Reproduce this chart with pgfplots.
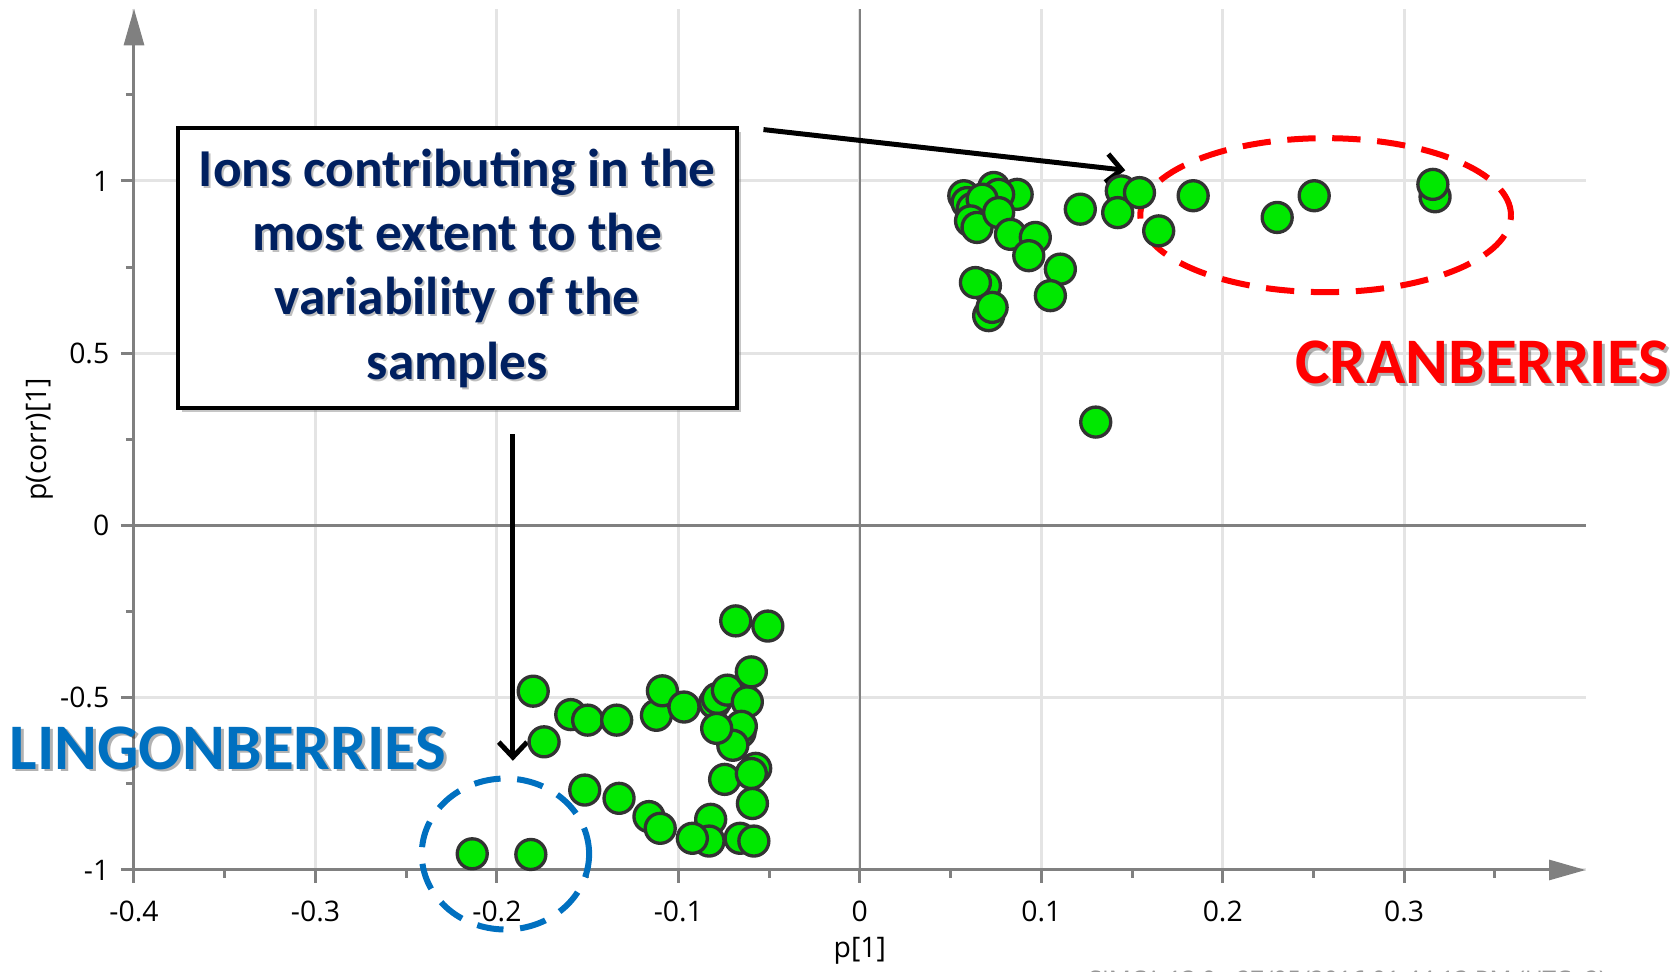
\documentclass[border=0pt]{standalone}
\usepackage{fontspec}
\setmainfont{Open Sans}
\newfontfamily\calibri{Carlito}
\usepackage{pgfplots}
\usepackage{pgfplotstable}
\pgfplotsset{compat=1.18}
\usetikzlibrary{arrows.meta,shadows}

\definecolor{axisgray}{RGB}{128,128,128}
\definecolor{gridgray}{RGB}{228,228,228}
\definecolor{ptgreen}{RGB}{0,232,0}
\definecolor{ptedge}{RGB}{51,51,51}
\definecolor{navy}{RGB}{0,32,96}
\definecolor{lingblue}{RGB}{0,112,192}
\definecolor{cranred}{RGB}{255,0,0}
\definecolor{footgray}{RGB}{150,150,150}

% loadings p[1] and p(corr)[1], positive side (cranberry markers)
\pgfplotstableread{
x y
0.0573 0.957
0.0591 0.937
0.0700 0.950
0.0620 0.920
0.0738 0.981
0.0867 0.961
0.0765 0.961
0.0674 0.947
0.0610 0.884
0.0646 0.865
0.0765 0.908
0.0830 0.845
0.0967 0.836
0.0931 0.783
0.1105 0.744
0.1050 0.667
0.0692 0.696
0.0637 0.705
0.0710 0.609
0.0729 0.633
0.1215 0.918
0.1441 0.971
0.1421 0.908
0.1541 0.966
0.1647 0.855
0.1837 0.957
0.2300 0.894
0.2504 0.957
0.3170 0.954
0.3158 0.990
0.1300 0.300
}\positive

% negative side (lingonberry markers)
\pgfplotstableread{
x y
-0.2136 -0.953
-0.1813 -0.955
-0.1800 -0.481
-0.1740 -0.628
-0.1593 -0.549
-0.1500 -0.565
-0.1340 -0.565
-0.1121 -0.551
-0.1088 -0.480
-0.0969 -0.527
-0.0800 -0.515
-0.0785 -0.502
-0.0730 -0.478
-0.0620 -0.512
-0.0660 -0.600
-0.0653 -0.583
-0.0700 -0.638
-0.0789 -0.589
-0.0598 -0.425
-0.0684 -0.277
-0.0507 -0.292
-0.0745 -0.737
-0.0574 -0.705
-0.0598 -0.720
-0.0592 -0.807
-0.0660 -0.908
-0.0584 -0.916
-0.0822 -0.853
-0.0831 -0.916
-0.0923 -0.908
-0.1162 -0.845
-0.1100 -0.879
-0.1327 -0.792
-0.1516 -0.768
}\negative

\begin{document}
\begin{tikzpicture}
\begin{axis}[
  scale only axis,
  width=435.5pt, height=258.4pt,
  at={(40.2pt,30.6pt)}, anchor=south west,
  xmin=-0.4, xmax=0.4, ymin=-1, ymax=1.5,
  axis lines=left,
  axis line style={draw=axisgray, line width=0.9pt, -{Triangle[length=11pt,width=6pt]}},
  xtick={-0.4,-0.3,-0.2,-0.1,0,0.1,0.2,0.3},
  minor xtick={-0.35,-0.25,-0.15,-0.05,0.05,0.15,0.25,0.35},
  ytick={-1,-0.5,0,0.5,1},
  minor ytick={-0.75,-0.25,0.25,0.75,1.25},
  tick align=outside,
  major tick length=3.9pt, minor tick length=2.4pt,
  every tick/.style={draw=axisgray, line width=0.9pt},
  xmajorgrids, ymajorgrids,
  major grid style={draw=gridgray, line width=0.9pt},
  /pgf/number format/assume math mode=true,
  ticklabel style={font=\fontsize{8.5}{10}\selectfont, text=black},
  xticklabel style={yshift=-2pt},
  xlabel={p[1]}, ylabel={p(corr)[1]},
  label style={font=\fontsize{8.5}{10}\selectfont},
  xlabel style={at={(axis description cs:0.5,-0.094)}, anchor=center},
  ylabel style={at={(axis description cs:-0.0648,0.5)}, anchor=center},
  clip=false,
]
% zero lines
\draw[axisgray, line width=0.65pt] (axis cs:0,-1) -- (axis cs:0,1.5);
\draw[axisgray, line width=0.65pt] (axis cs:-0.4,0) -- (axis cs:0.4,0);

\addplot[only marks, mark=*, mark size=4.5pt,
  mark options={fill=ptgreen, draw=ptedge, line width=1pt}] table {\positive};
\addplot[only marks, mark=*, mark size=4.5pt,
  mark options={fill=ptgreen, draw=ptedge, line width=1pt}] table {\negative};

% highlighted groups
\draw[cranred, line width=1.8pt, dash pattern=on 8.5pt off 5pt]
  (axis cs:0.2567,0.9006) ellipse [x radius=55.6pt, y radius=23.1pt];
\draw[lingblue, line width=1.8pt, dash pattern=on 8pt off 5pt]
  (axis cs:-0.1953,-0.9536) ellipse [x radius=25.1pt, y radius=22.65pt];

% callout box
\node[draw=black, line width=1.2pt, fill=white, minimum width=167.7pt, minimum height=83.85pt,
  drop shadow={shadow xshift=1.2pt, shadow yshift=-1.2pt, opacity=0.45}]
  at (axis cs:-0.2219,0.747) {};
\node[align=center, text=black, opacity=0.25, font=\calibri\bfseries\fontsize{16}{19.3}\selectfont,
  xshift=0.6pt, yshift=-0.6pt] at (axis cs:-0.2219,0.747)
  {Ions contributing in the\\most extent to the\\variability of the\\samples};
\node[align=center, text=navy, font=\calibri\bfseries\fontsize{16}{19.3}\selectfont]
  at (axis cs:-0.2219,0.747)
  {Ions contributing in the\\most extent to the\\variability of the\\samples};

% arrows
\draw[line width=1.5pt, -{Straight Barb[length=4.5pt,width=8.5pt]}]
  (axis cs:-0.0531,1.149) -- (axis cs:0.1463,1.031);
\draw[line width=1.5pt, -{Straight Barb[length=4.5pt,width=8.5pt]}]
  (axis cs:-0.1912,0.264) -- (axis cs:-0.1912,-0.683);

% group names
\node[text=black, opacity=0.3, font=\calibri\bfseries\fontsize{19.5}{24}\selectfont,
  xshift=0.8pt, yshift=-0.8pt] at (axis cs:-0.3482,-0.646) {LINGONBERRIES};
\node[text=lingblue, font=\calibri\bfseries\fontsize{19.5}{24}\selectfont]
  at (axis cs:-0.3482,-0.646) {LINGONBERRIES};
\node[text=black, opacity=0.3, font=\calibri\bfseries\fontsize{19.5}{24}\selectfont,
  xshift=0.8pt, yshift=-0.8pt] at (axis cs:0.343,0.4736) {CRANBERRIES};
\node[text=cranred, font=\calibri\bfseries\fontsize{19.5}{24}\selectfont]
  at (axis cs:0.343,0.4736) {CRANBERRIES};
\end{axis}

\node[anchor=north west, inner sep=0pt, text=footgray, font=\fontsize{7.3}{9}\selectfont]
  at (326.4pt,0.6pt) {SIMCA 13.0 - 27/05/2016 01:44:13 PM (UTC+2)};

\pgfresetboundingbox
\path[use as bounding box] (0,0) rectangle (504pt,291.6pt);
\end{tikzpicture}
\end{document}
